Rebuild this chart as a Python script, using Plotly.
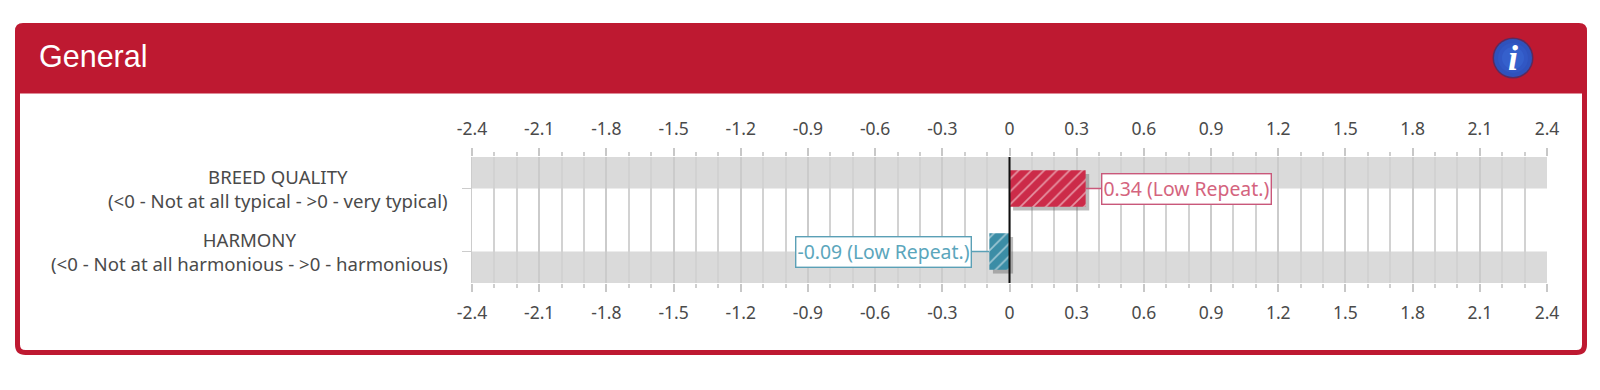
import plotly.graph_objects as go

categories = ["BREED QUALITY", "HARMONY"]
subtitles = ["(<0 - Not at all typical - >0 - very typical)", "(<0 - Not at all harmonious - >0 - harmonious)"]
values = [0.34, -0.09]
labels = ["0.34 (Low Repeat.)", "-0.09 (Low Repeat.)"]
major_ticks = [-2.4, -2.1, -1.8, -1.5, -1.2, -0.9, -0.6, -0.3, 0, 0.3, 0.6, 0.9, 1.2, 1.5, 1.8, 2.1, 2.4]
tick_labels = ["-2.4", "-2.1", "-1.8", "-1.5", "-1.2", "-0.9", "-0.6", "-0.3", "0", "0.3", "0.6", "0.9", "1.2", "1.5", "1.8", "2.1", "2.4"]
minor_ticks = [round(-2.4 + i * 0.1, 1) for i in range(49)]
colors = ["#CC2B49", "#3B8DA6"]
stripes = ["rgba(255,255,255,0.25)", "rgba(255,255,255,0.2)"]
label_colors = ["#D4647E", "#5BA6BC"]
border_colors = ["#C9587A", "#5BA0B6"]

W, H = 1600, 390
RED = "#BE1931"
FONT = "Noto Sans"
TXT = "#4a4a4a"
X0, X1, Y0, Y1 = 472, 1547, 157, 283

axis_style = dict(
    range=[-2.4, 2.4], tickmode="array", tickvals=major_ticks, ticktext=tick_labels, automargin=False,
    ticks="outside", ticklen=8, tickwidth=1.6, tickcolor="#c8c8c8",
    showgrid=True, gridcolor="#cbcbcb", gridwidth=1.7, zeroline=False, showline=False,
    tickfont=dict(family=FONT, size=17.5, color=TXT), ticklabelstandoff=6,
    domain=[X0 / W, X1 / W],
    minor=dict(tickmode="array", tickvals=minor_ticks, ticks="outside", ticklen=4, tickwidth=1.6,
               tickcolor="#cfcfcf", showgrid=True, gridcolor="#d2d2d2", gridwidth=1.6),
)

fig = go.Figure()
shadow_dx, shadow_dy = 0.016, 0.06
fig.add_trace(go.Bar(
    y=categories, x=values, base=[shadow_dx, shadow_dx], orientation="h", width=0.58, offset=-0.29 + shadow_dy,
    marker=dict(color="rgba(90,90,90,0.4)", line_width=0), hoverinfo="skip", showlegend=False, xaxis="x", yaxis="y",
))
fig.add_trace(go.Bar(
    y=categories, x=values, orientation="h", width=0.58, offset=-0.29,
    marker=dict(color=colors, line_width=0,
                pattern=dict(shape="/", fgcolor=stripes, bgcolor=colors, size=9, solidity=0.18, fillmode="overlay")),
    showlegend=False, xaxis="x", yaxis="y",
))
fig.add_trace(go.Scatter(x=[0], y=[categories[0]], mode="markers", marker_opacity=0, hoverinfo="skip",
                         showlegend=False, xaxis="x2", yaxis="y"))

shapes = []
r = 8
L, R, T, HB, B = 15, 1587, 23, 91, 355
shapes.append(dict(type="path", xref="paper", yref="paper", layer="below", fillcolor="white",
                   line=dict(color=RED, width=5),
                   path=f"M {(L+2.5)/W} {1-HB/H} L {(L+2.5)/W} {1-(B-2.5-r)/H} Q {(L+2.5)/W} {1-(B-2.5)/H} {(L+2.5+r)/W} {1-(B-2.5)/H} "
                        f"L {(R-2.5-r)/W} {1-(B-2.5)/H} Q {(R-2.5)/W} {1-(B-2.5)/H} {(R-2.5)/W} {1-(B-2.5-r)/H} L {(R-2.5)/W} {1-HB/H} Z"))
shapes.append(dict(type="path", xref="paper", yref="paper", layer="below", fillcolor=RED, line_width=0,
                   path=f"M {L/W} {1-HB/H} L {L/W} {1-(T+r)/H} Q {L/W} {1-T/H} {(L+r)/W} {1-T/H} "
                        f"L {(R-r)/W} {1-T/H} Q {R/W} {1-T/H} {R/W} {1-(T+r)/H} L {R/W} {1-HB/H} Z"))
cx, cy = 1513, 58
for rad, col in [(20.5, "#5b2a5e"), (19, "#2F52BC"), (15, "#3157C4"), (11, "#3560CC")]:
    shapes.append(dict(type="circle", xref="paper", yref="paper", layer="below", fillcolor=col, line_width=0,
                       x0=(cx - rad) / W, x1=(cx + rad) / W, y0=1 - (cy + rad) / H, y1=1 - (cy - rad) / H))
shapes.append(dict(type="rect", xref="x", yref="y", layer="below", fillcolor="#DADADA", line_width=0,
                   x0=-2.4, x1=2.4, y0=-0.5, y1=0))
shapes.append(dict(type="rect", xref="x", yref="y", layer="below", fillcolor="#DADADA", line_width=0,
                   x0=-2.4, x1=2.4, y0=1, y1=1.5))
shapes.append(dict(type="line", xref="x", yref="y", layer="above", line=dict(color="#111111", width=2),
                   x0=0, x1=0, y0=-0.5, y1=1.5))

annotations = [
    dict(text="General", xref="paper", yref="paper", x=37 / W, y=1 - 56 / H, xanchor="left", yanchor="middle",
         showarrow=False, font=dict(family="Liberation Sans", size=30.5, color="white")),
    dict(text="<b><i>i</i></b>", xref="paper", yref="paper", x=cx / W, y=1 - cy / H, xanchor="center", yanchor="middle",
         showarrow=False, font=dict(family="Liberation Serif", size=36, color="white")),
]
for c, s in zip(categories, subtitles):
    annotations.append(dict(text=f"{c}<br>{s}", xref="paper", yref="y", x=450 / W, y=c, xanchor="right",
                            yanchor="middle", align="center", showarrow=False,
                            font=dict(family=FONT, size=18.6, color=TXT)))
for c, v, t, lc, bc, ax in zip(categories, values, labels, label_colors, border_colors, [101, -106]):
    annotations.append(dict(text=t, x=v, y=c, xref="x", yref="y", ax=ax, ay=0, showarrow=True, arrowhead=0,
                            arrowwidth=1.3, arrowcolor=bc, standoff=0, bgcolor="white", bordercolor=bc,
                            borderwidth=1.4, borderpad=1, font=dict(family=FONT, size=19.4, color=lc)))

fig.update_layout(
    width=W, height=H, margin=dict(l=0, r=0, t=0, b=0, autoexpand=False), paper_bgcolor="white", plot_bgcolor="rgba(0,0,0,0)",
    barmode="overlay", shapes=shapes, annotations=annotations, showlegend=False,
    xaxis=dict(side="bottom", anchor="y", **axis_style),
    xaxis2=dict(side="top", anchor="y", overlaying="x", **axis_style),
    yaxis=dict(type="category", categoryorder="array", categoryarray=categories, range=[1.5, -0.5], automargin=False,
               domain=[1 - Y1 / H, 1 - Y0 / H], showticklabels=False, ticks="outside", ticklen=9, tickwidth=1.4,
               tickcolor="#cccccc", showgrid=False, zeroline=False, showline=True, linecolor="#cccccc", linewidth=1.4),
)

fig.write_html("out.html", config=dict(displayModeBar=False),
               post_script="document.body.style.margin='0';document.documentElement.style.overflow='hidden';")
